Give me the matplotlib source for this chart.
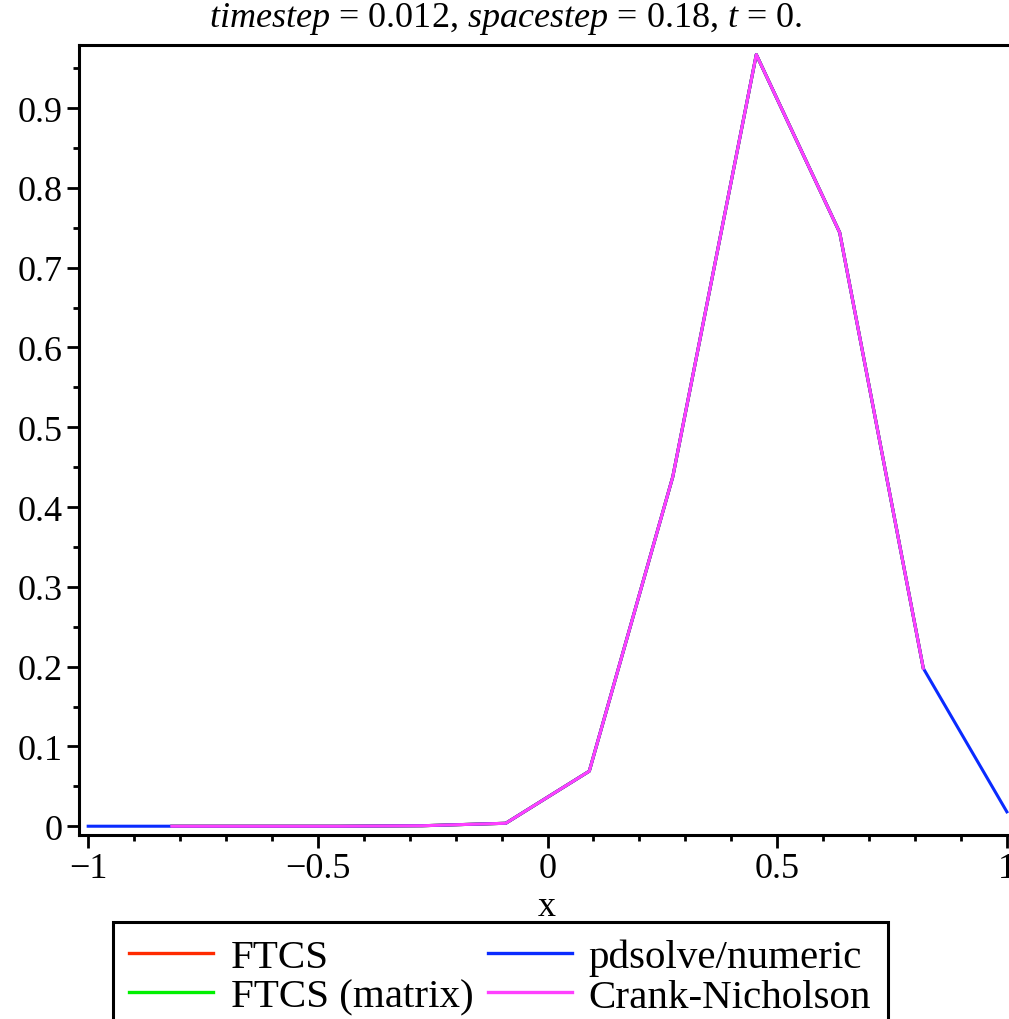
import matplotlib
matplotlib.use("Agg")
import matplotlib.pyplot as plt
from matplotlib.ticker import MultipleLocator, FuncFormatter

plt.rcParams['font.family'] = ['Liberation Serif', 'DejaVu Serif']
plt.rcParams['mathtext.fontset'] = 'custom'
plt.rcParams['mathtext.rm'] = 'Liberation Serif'
plt.rcParams['mathtext.it'] = 'Liberation Serif:italic'

# grid points (spacestep ~ 2/11)
x_full = [-1.0, -0.818, -0.636, -0.4545, -0.2727, -0.0909, 0.0909, 0.2727,
          0.4545, 0.636, 0.818, 1.0]
u_pdsolve = [0.0, 0.0, 0.0, 0.0, 0.0006, 0.0037, 0.069, 0.438, 0.967, 0.744,
             0.198, 0.018]
# interior points only for the hand-written schemes
x_inner = x_full[1:-1]
u_ftcs = u_pdsolve[1:-1]
u_ftcs_matrix = u_pdsolve[1:-1]
u_cn = u_pdsolve[1:-1]

labels = ["FTCS", "FTCS (matrix)", "pdsolve/numeric", "Crank-Nicholson"]
colors = ["#ff2a00", "#00f000", "#0a2bff", "#ff40ff"]

fig = plt.figure(figsize=(10.09, 10.20), dpi=100)
ax = fig.add_axes([0.0783, 0.1804, 1.007 - 0.0783, 0.7745])

lw = 2.2
ax.plot(x_inner, u_ftcs, color=colors[0], lw=lw, label=labels[0])
ax.plot(x_inner, u_ftcs_matrix, color=colors[1], lw=lw, label=labels[1])
ax.plot(x_full, u_pdsolve, color=colors[2], lw=lw, label=labels[2])
ax.plot(x_inner, u_cn, color=colors[3], lw=lw, label=labels[3])

ax.set_xlim(-1.02, 1.02)
ax.set_ylim(-0.011, 0.979)

for s in ax.spines.values():
    s.set_linewidth(2.2)
ax.spines['right'].set_visible(False)

ax.xaxis.set_major_locator(MultipleLocator(0.5))
ax.xaxis.set_minor_locator(MultipleLocator(0.1))
ax.yaxis.set_major_locator(MultipleLocator(0.1))
ax.yaxis.set_minor_locator(MultipleLocator(0.05))

fmt = FuncFormatter(lambda v, p: ("%g" % round(v, 3)).replace('-', '\u2212'))
ax.xaxis.set_major_formatter(fmt)
ax.yaxis.set_major_formatter(fmt)

ax.tick_params(which='major', length=9, width=2, labelsize=26, pad=3)
ax.tick_params(which='minor', length=4.5, width=2)
ax.tick_params(axis='y', which='both', right=False)
ax.tick_params(axis='x', which='both', top=False)

fig.text(547 / 1009, 1 - 908 / 1020, "x", fontsize=26, ha='center', va='center')

fig.text(506 / 1009, 1 - 19 / 1020,
         r"$timestep$ = 0.012, $spacestep$ = 0.18, $t$ = 0.",
         fontsize=26, ha='center', va='center')

leg = fig.legend(loc='upper left', bbox_to_anchor=(113 / 1009, 1 - 923 / 1020),
                 ncol=2, fontsize=29.5, frameon=True, fancybox=False,
                 framealpha=1, edgecolor='black', handlelength=2.05,
                 handletextpad=0.42, columnspacing=0.35, borderpad=0.4,
                 labelspacing=0.05, borderaxespad=0)
leg.get_frame().set_linewidth(2.2)
for line in leg.get_lines():
    line.set_linewidth(2.4)

fig.savefig("out.png", dpi=100)
